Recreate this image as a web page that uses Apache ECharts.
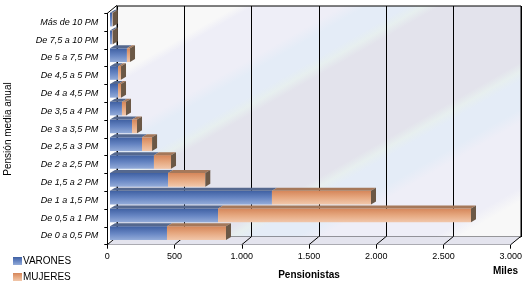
<!DOCTYPE html>
<html>
<head>
<meta charset="utf-8">
<script src="https://cdn.jsdelivr.net/npm/echarts@6/dist/echarts.min.js"></script>
<style>
html,body{margin:0;padding:0;background:#fff;}
#grafico{width:528px;height:284px;}
</style>
</head>
<body>
<div id="grafico"></div>
<script>
// tramos de pension (de abajo hacia arriba)
var categorias = ['De 0 a 0,5 PM','De 0,5 a 1 PM','De 1 a 1,5 PM','De 1,5 a 2 PM','De 2 a 2,5 PM','De 2,5 a 3 PM',
	'De 3 a 3,5 PM','De 3,5 a 4 PM','De 4 a 4,5 PM','De 4,5 a 5 PM','De 5 a 7,5 PM','De 7,5 a 10 PM','Más de 10 PM'];
var varones = [424, 804, 1205, 432, 327, 238, 164, 89, 60, 60, 126, 18, 18];//miles
var mujeres = [439, 1882, 737, 277, 127, 75, 37, 30, 22, 22, 23, 3, 3];//miles
var marcasX = [0, 500, 1000, 1500, 2000, 2500, 3000];

var fuente = 'Liberation Sans';
var prof = [5, 3];//profundidad de las barras
var profEjes = [9.7, 8];//profundidad del fondo

function grad(c){
	return new echarts.graphic.LinearGradient(0, 0, 0, 1, [
		{offset: 0, color: c[0]}, {offset: 0.5, color: c[1]}, {offset: 1, color: c[2]}]);
}
var colVar = ['#3f60a2', '#6584c2', '#94acd9'];
var colMuj = ['#d5865a', '#e6a880', '#f1c7ab'];

function barra3d(frente, tapa, conLado){
	return function(params, api){
		var cat = api.value(2);
		var p0 = api.coord([api.value(0), cat]);
		var p1 = api.coord([api.value(1), cat]);
		var h = api.size([0, 1])[1] * 0.77;
		var y0 = p0[1] - h / 2, y1 = p0[1] + h / 2;
		var hijos = [{
			type: 'rect',
			shape: {x: p0[0], y: y0, width: p1[0] - p0[0], height: h},
			style: {fill: grad(frente)}
		}, {
			type: 'polygon',
			shape: {points: [[p0[0], y0], [p0[0] + prof[0], y0 - prof[1]], [p1[0] + prof[0], y0 - prof[1]], [p1[0], y0]]},
			style: {fill: tapa}
		}];
		if(conLado){
			hijos.push({
				type: 'polygon',
				shape: {points: [[p1[0], y0], [p1[0] + prof[0], y0 - prof[1]], [p1[0] + prof[0], y1 - prof[1]], [p1[0], y1]]},
				style: {fill: '#6b5846'}
			});
		}
		return {type: 'group', children: hijos};
	};
}

var myChart = echarts.init(document.getElementById('grafico'));
var option = {
	animation: false,
	textStyle: {fontFamily: fuente},
	legend: {
		data: ['VARONES', 'MUJERES'],
		orient: 'vertical',
		left: 13, top: 256,
		padding: 0,
		icon: 'rect',
		itemWidth: 9, itemHeight: 8, itemGap: 6,
		textStyle: {fontSize: 10, color: '#000', fontFamily: fuente, padding: [0, 0, 0, -4]}
	},
	graphic: [{
		type: 'text', right: 10, top: 266,
		style: {text: 'Miles', font: 'bold 10px "Liberation Sans"', fill: '#000'}
	}],
	grid: [
		{//fondo
			left: 117, right: 7, top: 6, bottom: 47, show: true, outerBoundsMode: 'none',
			borderColor: '#000', borderWidth: 1,
			backgroundColor: new echarts.graphic.LinearGradient(0, 0, 0.493, 1.507, [
				{offset: 0, color: '#f8f8f8'}, {offset: 0.15, color: '#f8f8f8'},
				{offset: 0.17, color: '#eeeef7'}, {offset: 0.28, color: '#eeeef7'},
				{offset: 0.31, color: '#e4ecf7'}, {offset: 0.36, color: '#e4ecf7'},
				{offset: 0.38, color: '#e7efef'}, {offset: 0.40, color: '#e3e3ec'},
				{offset: 0.62, color: '#e3e3ec'}, {offset: 0.64, color: '#e7efef'},
				{offset: 0.66, color: '#e4ecf7'}, {offset: 0.72, color: '#e4ecf7'},
				{offset: 0.75, color: '#eeeef7'}, {offset: 0.89, color: '#eeeef7'},
				{offset: 0.92, color: '#f8f8f8'}, {offset: 1, color: '#f8f8f8'}
			])
		},
		{left: 107.3, right: 17.3, top: 13.3, bottom: 39.3, outerBoundsMode: 'none'},//ejes delanteros
		{left: 110, right: 14.8, top: 10.7, bottom: 41.9, outerBoundsMode: 'none'}//barras
	],
	xAxis: [
		{gridIndex: 0, type: 'value', min: 0, max: 3000, interval: 500,
			axisLine: {show: false}, axisTick: {show: false}, axisLabel: {show: false},
			splitLine: {show: true, lineStyle: {color: '#000', width: 1}}},
		{gridIndex: 1, type: 'value', min: 0, max: 3000, interval: 500,
			name: 'Pensionistas', nameLocation: 'middle', nameGap: 26, nameMoveOverlap: false,
			nameTextStyle: {fontSize: 10, fontWeight: 'bold', color: '#000', fontFamily: fuente},
			axisLine: {show: true, lineStyle: {color: '#000'}},
			axisTick: {show: true, length: 4, lineStyle: {color: '#000'}},
			axisLabel: {fontSize: 9, color: '#000', margin: 7, fontFamily: fuente,
				formatter: function(v){ return String(v).replace(/\B(?=(\d{3})+(?!\d))/g, '.'); }},
			splitLine: {show: false}},
		{gridIndex: 2, type: 'value', min: 0, max: 3000, show: false}
	],
	yAxis: [
		{gridIndex: 0, type: 'category', data: categorias, show: false},
		{gridIndex: 1, type: 'category', data: categorias,
			name: 'Pensión media anual', nameLocation: 'middle', nameGap: 94, nameMoveOverlap: false,
			nameTextStyle: {fontSize: 10, color: '#000', fontFamily: fuente},
			axisLine: {show: true, lineStyle: {color: '#000'}},
			axisTick: {show: true, length: 3, lineStyle: {color: '#000'}},
			axisLabel: {fontSize: 9, fontStyle: 'italic', color: '#000', margin: 9, fontFamily: fuente}},
		{gridIndex: 2, type: 'category', data: categorias, show: false}
	],
	series: [
		{//suelo y lineas de profundidad
			type: 'custom', xAxisIndex: 1, yAxisIndex: 1, silent: true, z: 1,
			data: marcasX.map(function(v){ return [v]; }),
			encode: {x: 0},
			renderItem: function(params, api){
				var cs = params.coordSys;
				var yb = cs.y + cs.height;
				var x = api.coord([api.value(0), 0])[0];
				var hijos = [{
					type: 'line',
					shape: {x1: x, y1: yb, x2: x + profEjes[0], y2: yb - profEjes[1]},
					style: {stroke: '#000', lineWidth: 1}
				}];
				if(params.dataIndex === 0){
					hijos.unshift({
						type: 'polygon',
						shape: {points: [[cs.x, yb], [cs.x + cs.width, yb], [cs.x + cs.width + profEjes[0], yb - profEjes[1]], [cs.x + profEjes[0], yb - profEjes[1]]]},
						style: {fill: '#e4e4ee'}
					});
					hijos.push({
						type: 'line',
						shape: {x1: cs.x, y1: cs.y, x2: cs.x + profEjes[0], y2: cs.y - profEjes[1]},
						style: {stroke: '#000', lineWidth: 1}
					});
				}
				return {type: 'group', children: hijos};
			}
		},
		{
			name: 'VARONES', type: 'custom', xAxisIndex: 2, yAxisIndex: 2, z: 3, clip: false,
			itemStyle: {color: grad(colVar)},
			data: varones.map(function(v, i){ return [0, v, i]; }),
			encode: {x: [0, 1], y: 2},
			renderItem: barra3d(colVar, '#55688e', false)
		},
		{
			name: 'MUJERES', type: 'custom', xAxisIndex: 2, yAxisIndex: 2, z: 3, clip: false,
			itemStyle: {color: grad(colMuj)},
			data: mujeres.map(function(m, i){ return [varones[i], varones[i] + m, i]; }),
			encode: {x: [0, 1], y: 2},
			renderItem: barra3d(colMuj, '#a5785a', true)
		}
	]
};
myChart.setOption(option);
</script>
</body>
</html>
